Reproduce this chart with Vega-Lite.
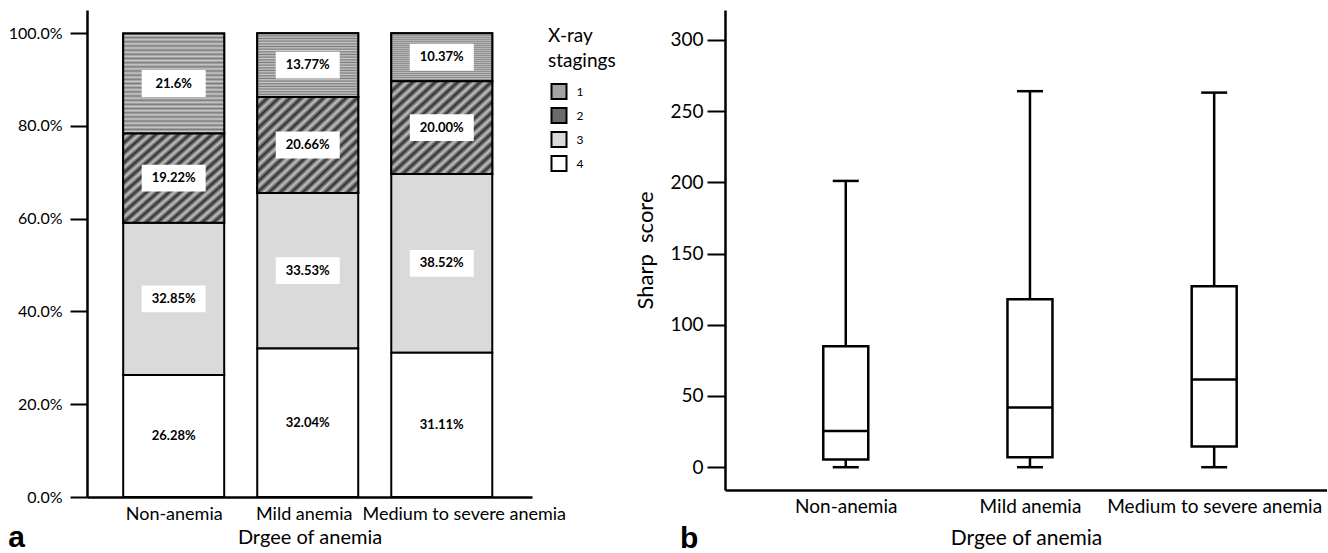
{
  "$schema": "https://vega.github.io/schema/vega-lite/v6.json",
  "padding": {"left": 8, "top": 10, "right": 0, "bottom": 0},
  "background": "white",
  "spacing": 68,
  "config": {
    "view": {"stroke": null},
    "axis": {"domainColor": "black", "domainWidth": 2, "tickColor": "black", "tickWidth": 2, "labelColor": "black", "titleColor": "black", "grid": false, "titleFontWeight": "normal", "labelLimit": 0},
    "legend": {"labelColor": "black", "titleColor": "black"}
  },
  "hconcat": [
    {
      "width": 445,
      "height": 487,
      "title": {"text": "a", "orient": "bottom", "anchor": "start", "frame": "bounds", "fontSize": 30, "fontWeight": "bold", "font": "Liberation Sans", "offset": -24, "color": "black"},
      "data": {"values": [
        {"group": "Non-anemia", "stage": "1", "value": 0.216, "label": "21.6%"},
        {"group": "Non-anemia", "stage": "2", "value": 0.1922, "label": "19.22%"},
        {"group": "Non-anemia", "stage": "3", "value": 0.3285, "label": "32.85%"},
        {"group": "Non-anemia", "stage": "4", "value": 0.2628, "label": "26.28%"},
        {"group": "Mild anemia", "stage": "1", "value": 0.1377, "label": "13.77%"},
        {"group": "Mild anemia", "stage": "2", "value": 0.2066, "label": "20.66%"},
        {"group": "Mild anemia", "stage": "3", "value": 0.3353, "label": "33.53%"},
        {"group": "Mild anemia", "stage": "4", "value": 0.3204, "label": "32.04%"},
        {"group": "Medium to severe anemia", "stage": "1", "value": 0.1037, "label": "10.37%"},
        {"group": "Medium to severe anemia", "stage": "2", "value": 0.2000, "label": "20.00%"},
        {"group": "Medium to severe anemia", "stage": "3", "value": 0.3852, "label": "38.52%"},
        {"group": "Medium to severe anemia", "stage": "4", "value": 0.3111, "label": "31.11%"}
      ]},
      "transform": [
        {"stack": "value", "groupby": ["group"], "sort": [{"field": "stage", "order": "descending"}], "as": ["y0", "y1"]},
        {"calculate": "(datum.y0 + datum.y1) / 2", "as": "ymid"}
      ],
      "encoding": {
        "x": {
          "field": "group", "type": "nominal",
          "sort": ["Non-anemia", "Mild anemia", "Medium to severe anemia"],
          "scale": {"type": "point", "padding": 0.66, "align": 0.49},
          "axis": {"title": "Drgee of anemia", "labelAngle": 0, "ticks": false, "labelPadding": 8, "labelFont": "Lato", "labelFontSize": 18,
            "labelOffset": {"condition": [{"test": "datum.value == 'Medium to severe anemia'", "value": 22}, {"test": "datum.value == 'Mild anemia'", "value": -4}], "value": 0},
            "titleFont": "Lato", "titleFontSize": 20, "titlePadding": 4, "domainWidth": 2.5}
        },
        "y": {"field": "y0", "type": "quantitative", "scale": {"domain": [0, 1.05], "nice": false},
          "axis": {"title": null, "values": [0, 0.2, 0.4, 0.6, 0.8, 1.0], "format": ".1%", "labelFont": "Lato", "labelFontSize": 16, "tickSize": 17, "labelPadding": 8, "domainWidth": 2.5}},
        "y2": {"field": "y1"}
      },
      "layer": [
        {
          "mark": {"type": "bar", "width": 101, "stroke": "black", "strokeWidth": 2},
          "encoding": {
            "fill": {
              "field": "stage", "type": "nominal",
              "scale": {"domain": ["1", "2", "3", "4"], "range": ["#a3a3a3", "#6a6a6a", "#dadada", "#ffffff"]},
              "legend": {"title": ["X-ray", "stagings"], "orient": "none", "legendX": 461, "legendY": 17, "titleFont": "Lato", "titleFontSize": 19, "titleFontWeight": "normal", "titleLineHeight": 25, "titlePadding": 12, "labelFont": "Lato", "labelFontSize": 12, "symbolType": "square", "symbolSize": 225, "symbolStrokeColor": "black", "symbolStrokeWidth": 2, "symbolOffset": 2.5, "rowPadding": 1, "labelOffset": 9, "padding": 0, "offset": 0}
            }
          }
        },
        {
          "transform": [{"filter": "datum.stage == '1'"}],
          "mark": {"type": "bar", "width": 101, "stroke": "black", "strokeWidth": 2,
            "fill": {"gradient": "linear", "x1": 0, "y1": 0, "x2": 0, "y2": 1, "stops": [
              {"offset": 0, "color": "#7c7c7c"}, {"offset": 0.0208, "color": "#cacaca"}, {"offset": 0.0417, "color": "#7c7c7c"}, {"offset": 0.0625, "color": "#cacaca"}, {"offset": 0.0833, "color": "#7c7c7c"}, {"offset": 0.1042, "color": "#cacaca"}, {"offset": 0.125, "color": "#7c7c7c"}, {"offset": 0.1458, "color": "#cacaca"}, {"offset": 0.1667, "color": "#7c7c7c"}, {"offset": 0.1875, "color": "#cacaca"}, {"offset": 0.2083, "color": "#7c7c7c"}, {"offset": 0.2292, "color": "#cacaca"}, {"offset": 0.25, "color": "#7c7c7c"}, {"offset": 0.2708, "color": "#cacaca"}, {"offset": 0.2917, "color": "#7c7c7c"}, {"offset": 0.3125, "color": "#cacaca"}, {"offset": 0.3333, "color": "#7c7c7c"}, {"offset": 0.3542, "color": "#cacaca"}, {"offset": 0.375, "color": "#7c7c7c"}, {"offset": 0.3958, "color": "#cacaca"}, {"offset": 0.4167, "color": "#7c7c7c"}, {"offset": 0.4375, "color": "#cacaca"}, {"offset": 0.4583, "color": "#7c7c7c"}, {"offset": 0.4792, "color": "#cacaca"}, {"offset": 0.5, "color": "#7c7c7c"}, {"offset": 0.5208, "color": "#cacaca"}, {"offset": 0.5417, "color": "#7c7c7c"}, {"offset": 0.5625, "color": "#cacaca"}, {"offset": 0.5833, "color": "#7c7c7c"}, {"offset": 0.6042, "color": "#cacaca"}, {"offset": 0.625, "color": "#7c7c7c"}, {"offset": 0.6458, "color": "#cacaca"}, {"offset": 0.6667, "color": "#7c7c7c"}, {"offset": 0.6875, "color": "#cacaca"}, {"offset": 0.7083, "color": "#7c7c7c"}, {"offset": 0.7292, "color": "#cacaca"}, {"offset": 0.75, "color": "#7c7c7c"}, {"offset": 0.7708, "color": "#cacaca"}, {"offset": 0.7917, "color": "#7c7c7c"}, {"offset": 0.8125, "color": "#cacaca"}, {"offset": 0.8333, "color": "#7c7c7c"}, {"offset": 0.8542, "color": "#cacaca"}, {"offset": 0.875, "color": "#7c7c7c"}, {"offset": 0.8958, "color": "#cacaca"}, {"offset": 0.9167, "color": "#7c7c7c"}, {"offset": 0.9375, "color": "#cacaca"}, {"offset": 0.9583, "color": "#7c7c7c"}, {"offset": 0.9792, "color": "#cacaca"}, {"offset": 1, "color": "#7c7c7c"}
            ]}
          }
        },
        {
          "transform": [{"filter": "datum.stage == '2'"}],
          "mark": {"type": "bar", "width": 101, "stroke": "black", "strokeWidth": 2,
            "fill": {"gradient": "linear", "x1": 0, "y1": 0, "x2": 1, "y2": 1, "stops": [
              {"offset": 0, "color": "#2e2e2e"}, {"offset": 0.0278, "color": "#c4c4c4"}, {"offset": 0.0556, "color": "#2e2e2e"}, {"offset": 0.0833, "color": "#c4c4c4"}, {"offset": 0.1111, "color": "#2e2e2e"}, {"offset": 0.1389, "color": "#c4c4c4"}, {"offset": 0.1667, "color": "#2e2e2e"}, {"offset": 0.1944, "color": "#c4c4c4"}, {"offset": 0.2222, "color": "#2e2e2e"}, {"offset": 0.25, "color": "#c4c4c4"}, {"offset": 0.2778, "color": "#2e2e2e"}, {"offset": 0.3056, "color": "#c4c4c4"}, {"offset": 0.3333, "color": "#2e2e2e"}, {"offset": 0.3611, "color": "#c4c4c4"}, {"offset": 0.3889, "color": "#2e2e2e"}, {"offset": 0.4167, "color": "#c4c4c4"}, {"offset": 0.4444, "color": "#2e2e2e"}, {"offset": 0.4722, "color": "#c4c4c4"}, {"offset": 0.5, "color": "#2e2e2e"}, {"offset": 0.5278, "color": "#c4c4c4"}, {"offset": 0.5556, "color": "#2e2e2e"}, {"offset": 0.5833, "color": "#c4c4c4"}, {"offset": 0.6111, "color": "#2e2e2e"}, {"offset": 0.6389, "color": "#c4c4c4"}, {"offset": 0.6667, "color": "#2e2e2e"}, {"offset": 0.6944, "color": "#c4c4c4"}, {"offset": 0.7222, "color": "#2e2e2e"}, {"offset": 0.75, "color": "#c4c4c4"}, {"offset": 0.7778, "color": "#2e2e2e"}, {"offset": 0.8056, "color": "#c4c4c4"}, {"offset": 0.8333, "color": "#2e2e2e"}, {"offset": 0.8611, "color": "#c4c4c4"}, {"offset": 0.8889, "color": "#2e2e2e"}, {"offset": 0.9167, "color": "#c4c4c4"}, {"offset": 0.9444, "color": "#2e2e2e"}, {"offset": 0.9722, "color": "#c4c4c4"}, {"offset": 1, "color": "#2e2e2e"}
            ]}
          }
        },
        {
          "transform": [{"filter": "datum.stage != '4'"}],
          "mark": {"type": "point", "shape": "M-1,-0.42H1V0.42H-1Z", "size": 4096, "filled": true, "fill": "white", "strokeWidth": 0, "opacity": 1},
          "encoding": {"y": {"field": "ymid", "type": "quantitative"}, "y2": null}
        },
        {
          "mark": {"type": "text", "font": "Lato", "fontWeight": "bold", "fontSize": 13, "color": "black"},
          "encoding": {"y": {"field": "ymid", "type": "quantitative"}, "y2": null, "text": {"field": "label"}}
        }
      ]
    },
    {
      "width": 602,
      "height": 480,
      "title": {"text": "b", "orient": "bottom", "anchor": "start", "frame": "group", "dx": -45, "fontSize": 30, "fontWeight": "bold", "font": "Liberation Sans", "offset": -24, "color": "black"},
      "data": {"values": [
        {"group": "Non-anemia", "min": 0, "q1": 5.5, "median": 25.5, "q3": 85, "max": 201},
        {"group": "Mild anemia", "min": 0, "q1": 7, "median": 42, "q3": 118, "max": 264},
        {"group": "Medium to severe anemia", "min": 0, "q1": 14.5, "median": 61.5, "q3": 127, "max": 263}
      ]},
      "encoding": {
        "x": {
          "field": "group", "type": "nominal",
          "sort": ["Non-anemia", "Mild anemia", "Medium to severe anemia"],
          "scale": {"type": "point", "padding": 0.634, "align": 0.517},
          "axis": {"title": "Drgee of anemia", "labelAngle": 0, "ticks": false, "labelPadding": 7, "labelFont": "Lato", "labelFontSize": 19, "titleFont": "Lato", "titleFontSize": 21, "titlePadding": 11, "domainWidth": 2.5}
        }
      },
      "layer": [
        {
          "mark": {"type": "rule", "color": "black", "strokeWidth": 2.5},
          "encoding": {
            "y": {"field": "min", "type": "quantitative", "scale": {"domain": [-16, 321], "nice": false},
              "axis": {"title": "Sharp\u00a0\u00a0score", "values": [0, 50, 100, 150, 200, 250, 300], "labelFont": "Lato", "labelFontSize": 19, "tickSize": 18, "labelPadding": 4, "titleFont": "Lato", "titleFontSize": 22, "titlePadding": 12, "domainWidth": 2.5}},
            "y2": {"field": "max"}
          }
        },
        {
          "mark": {"type": "bar", "width": 45, "fill": "white", "stroke": "black", "strokeWidth": 2.5},
          "encoding": {"y": {"field": "q1", "type": "quantitative"}, "y2": {"field": "q3"}}
        },
        {
          "mark": {"type": "tick", "color": "black", "opacity": 1, "size": 45, "thickness": 2.5, "orient": "horizontal"},
          "encoding": {"y": {"field": "median", "type": "quantitative"}}
        },
        {
          "mark": {"type": "tick", "color": "black", "opacity": 1, "size": 26, "thickness": 2.5, "orient": "horizontal"},
          "encoding": {"y": {"field": "max", "type": "quantitative"}}
        },
        {
          "mark": {"type": "tick", "color": "black", "opacity": 1, "size": 26, "thickness": 2.5, "orient": "horizontal"},
          "encoding": {"y": {"field": "min", "type": "quantitative"}}
        }
      ]
    }
  ]
}
